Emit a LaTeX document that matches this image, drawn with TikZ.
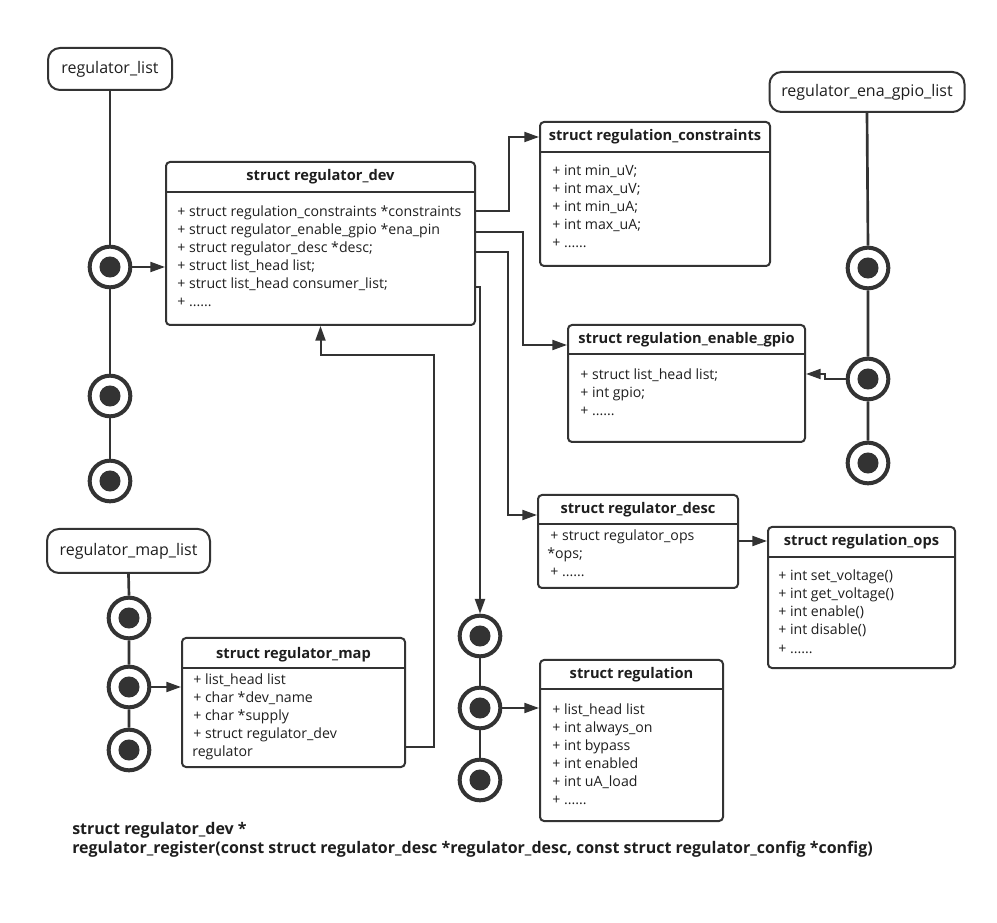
\documentclass[tikz,border=0pt]{standalone}
\usepackage{fontspec}
\setmainfont{Open Sans}
\usetikzlibrary{arrows.meta}
\definecolor{ink}{HTML}{333333}
\definecolor{txt}{HTML}{1E1E1E}
\newcommand\moredots{......}
\begin{document}
\begin{tikzpicture}[x=0.75pt,y=-0.75pt,
  every node/.style={text=txt},
  umlbox/.style={draw=ink, line width=1.5pt, rounded corners=3pt, inner sep=0pt},
  headtext/.style={font=\bfseries\fontsize{11}{13}\selectfont, inner sep=0pt},
  bodyline/.style={font=\fontsize{10.6}{12}\selectfont, anchor=base west, inner sep=0pt},
  listhead/.style={draw=ink, line width=1.5pt, rounded corners=9pt, inner sep=0pt,
    font=\fontsize{12}{14}\selectfont},
  listnode/.style={circle, draw=ink, line width=3pt, minimum size=30.5pt, inner sep=0pt,
    path picture={\fill[ink] (path picture bounding box.center) circle (7.9pt);}},
  link/.style={draw=ink, line width=2pt},
  sepline/.style={draw=ink, line width=1.5pt},
  conn/.style={draw=ink, line width=1.5pt, -{Triangle[length=11pt,width=7.5pt]}},
  footer/.style={font=\bfseries\fontsize{12}{14}\selectfont, anchor=base west, inner sep=0pt}
]
\useasboundingbox (0,0) rectangle (997,923);

% ---------- list heads ----------
\node[listhead, minimum width=93pt, minimum height=31.5pt] (rlist) at (110,69) {regulator\_list};
\node[listhead, minimum width=146.25pt, minimum height=30pt] (elist) at (867,92) {regulator\_ena\_gpio\_list};
\node[listhead, minimum width=122.25pt, minimum height=33pt] (mlist) at (128.5,551) {regulator\_map\_list};

% ---------- list entries ----------
\node[listnode] (c1) at (110,267) {};
\node[listnode] (c2) at (110,396) {};
\node[listnode] (c3) at (110,481) {};
\node[listnode] (e1) at (868,268) {};
\node[listnode] (e2) at (868,379) {};
\node[listnode] (e3) at (868,463) {};
\node[listnode] (m1) at (129,618) {};
\node[listnode] (m2) at (129,687) {};
\node[listnode] (m3) at (129,750) {};
\node[listnode] (r1) at (480,636) {};
\node[listnode] (r2) at (480,708) {};
\node[listnode] (r3) at (480,780) {};

\draw[link] (rlist.south) -- (c1.north) (c1.south) -- (c2.north) (c2.south) -- (c3.north);
\draw[link] (elist.south) -- (e1.north) (e1.south) -- (e2.north) (e2.south) -- (e3.north);
\draw[link] (mlist.south) -- (m1.north) (m1.south) -- (m2.north) (m2.south) -- (m3.north);
\draw[link] (r1.south) -- (r2.north) (r2.south) -- (r3.north);

% ---------- struct regulator_dev ----------
\node[umlbox, minimum width=231.75pt, minimum height=122.25pt] (dev) at (320.5,243.5) {};
\draw[sepline] (dev.west |- 0,192) -- (dev.east |- 0,192);
\node[headtext] (devT) at (320.5,177) {struct regulator\_dev};
\foreach \t [count=\i from 0] in {%
  + struct regulation\_constraints *constraints,
  + struct regulator\_enable\_gpio *ena\_pin,
  + struct regulator\_desc *desc;,
  + struct list\_head list;,
  + struct list\_head consumer\_list;,
  + \moredots}
  \node[bodyline] (devL\i) at (177,217+18*\i) {\t};

% ---------- struct regulation_constraints ----------
\node[umlbox, minimum width=172.5pt, minimum height=108pt] (cons) at (655,194) {};
\draw[sepline] (cons.west |- 0,152) -- (cons.east |- 0,152);
\node[headtext] (consT) at (655,137) {struct regulation\_constraints};
\foreach \t [count=\i from 0] in {+ int min\_uV;, + int max\_uV;, + int min\_uA;, + int max\_uA;, + \moredots}
  \node[bodyline] (consL\i) at (552,176+18*\i) {\t};

% ---------- struct regulation_enable_gpio ----------
\node[umlbox, minimum width=177.75pt, minimum height=87.75pt] (gpio) at (686.5,383.5) {};
\draw[sepline] (gpio.west |- 0,354) -- (gpio.east |- 0,354);
\node[headtext] (gpioT) at (686.5,340) {struct regulation\_enable\_gpio};
\foreach \t [count=\i from 0] in {+ struct list\_head list;, + int gpio;, + \moredots}
  \node[bodyline] (gpioL\i) at (580,380+18*\i) {\t};

% ---------- struct regulator_desc ----------
\node[umlbox, minimum width=150pt, minimum height=69.75pt] (desc) at (638,541.5) {};
\draw[sepline] (desc.west |- 0,524) -- (desc.east |- 0,524);
\node[headtext] (descT) at (638,510) {struct regulator\_desc};
\node[bodyline] (descL0) at (550,541) {+ struct regulator\_ops};
\node[bodyline] (descL1) at (547,559) {*ops;};
\node[bodyline] (descL2) at (550,577) {+ \moredots};

% ---------- struct regulation_ops ----------
\node[umlbox, minimum width=140.25pt, minimum height=105.75pt] (ops) at (861.5,597.5) {};
\draw[sepline] (ops.west |- 0,557) -- (ops.east |- 0,557);
\node[headtext] (opsT) at (861.5,542) {struct regulation\_ops};
\foreach \t [count=\i from 0] in {+ int set\_voltage(), + int get\_voltage(), + int enable(), + int disable(), + \moredots}
  \node[bodyline] (opsL\i) at (778,581+18*\i) {\t};

% ---------- struct regulator_map ----------
\node[umlbox, minimum width=167.25pt, minimum height=96.75pt] (map) at (293.5,702.5) {};
\draw[sepline] (map.west |- 0,668) -- (map.east |- 0,668);
\node[headtext] (mapT) at (293.5,655) {struct regulator\_map};
\foreach \t [count=\i from 0] in {+ list\_head list, + char *dev\_name, + char *supply, + struct regulator\_dev}
  \node[bodyline] (mapL\i) at (193,685+17.8*\i) {\t};
\node[bodyline] (mapL4) at (192,756) {regulator};

% ---------- struct regulation ----------
\node[umlbox, minimum width=137.25pt, minimum height=120.75pt] (reg) at (631.5,740.5) {};
\draw[sepline] (reg.west |- 0,689) -- (reg.east |- 0,689);
\node[headtext] (regT) at (631.5,675) {struct regulation};
\foreach \t [count=\i from 0] in {+ list\_head list, + int always\_on, + int bypass, + int enabled, + int uA\_load, + \moredots}
  \node[bodyline] (regL\i) at (552,714+18*\i) {\t};

% ---------- connectors ----------
\draw[conn] (c1.east) -- (dev.west |- c1);
\draw[conn] (dev.east |- 0,211) -- ++(33,0) |- (cons.west |- consT);
\draw[conn] (dev.east |- 0,232) -- ++(47,0) |- (gpio.west |- 0,345);
\draw[conn] (dev.east |- 0,252) -- ++(32,0) |- (desc.west |- 0,515);
\draw[conn] (dev.east |- 0,287) -| (r1.north);
\draw[conn] (e2.west) -- ++(-21,0) -- ++(0,-5) -- (gpio.east |- 0,374);
\draw[conn] (desc.east |- 0,541) -- (ops.west |- 0,541);
\draw[conn] (m2.east) -- (map.west |- m2);
\coordinate (mapbend) at (434,355);
\draw[conn] (map.east |- 0,747) -| (mapbend) -| (dev.south);
\draw[conn] (r2.east) -- (reg.west |- r2);

% ---------- registration prototype ----------
\node[footer] (proto1) at (72,834) {struct regulator\_dev *};
\node[footer] (proto2) at (72,853) {regulator\_register(const struct regulator\_desc *regulator\_desc, const struct regulator\_config *config)};
\end{tikzpicture}
\end{document}
